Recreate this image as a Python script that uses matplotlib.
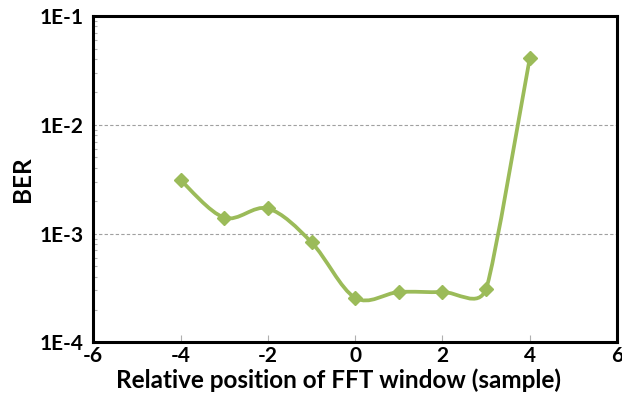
import numpy as np
import matplotlib.pyplot as plt
from matplotlib.path import Path
from matplotlib.patches import PathPatch
from matplotlib.ticker import FixedLocator, FixedFormatter, LogLocator, NullFormatter

plt.rcParams['font.family'] = ['Lato', 'DejaVu Sans']
plt.rcParams['font.weight'] = 'bold'
plt.rcParams['axes.unicode_minus'] = False

# BER versus FFT window offset
offsets = [-4, -3, -2, -1, 0, 1, 2, 3, 4]
ber = [3.1e-3, 1.40e-3, 1.70e-3, 8.3e-4, 2.57e-4, 2.9e-4, 2.9e-4, 3.1e-4, 4.08e-2]

x_ticks = [-6, -4, -2, 0, 2, 4, 6]
y_ticks = [1e-4, 1e-3, 1e-2, 1e-1]
y_tick_labels = ['1E-4', '1E-3', '1E-2', '1E-1']

green = '#9bbb59'

fig = plt.figure(figsize=(6.22, 4.09), dpi=100)
ax = fig.add_axes([0.150, 0.163, 0.842, 0.798])
ax.set_yscale('log')
ax.set_xlim(-6, 6)
ax.set_ylim(1e-4, 1e-1)


def smooth_path(ax, xs, ys):
    # spreadsheet-style smoothed line: Bezier segments whose control
    # points follow the neighbouring points, computed in screen space and
    # shortened when a neighbouring segment is short
    pts = ax.transData.transform(np.column_stack([xs, ys]))
    n = len(pts)
    ctrl_in = np.zeros_like(pts)
    ctrl_out = np.zeros_like(pts)
    for i in range(n):
        p0 = pts[max(i - 1, 0)]
        p1 = pts[i]
        p2 = pts[min(i + 1, n - 1)]
        d01 = np.hypot(*(p1 - p0))
        d12 = np.hypot(*(p2 - p1))
        d02 = np.hypot(*(p2 - p0))
        f = 1 / 6
        if 0 < i < n - 1 and d02 > 0:
            f = min(f, d01 / (2 * d02), d12 / (2 * d02))
        ctrl_in[i] = p1 - f * (p2 - p0)
        ctrl_out[i] = p1 + f * (p2 - p0)
    verts = [pts[0]]
    codes = [Path.MOVETO]
    for i in range(n - 1):
        verts += [ctrl_out[i], ctrl_in[i + 1], pts[i + 1]]
        codes += [Path.CURVE4] * 3
    verts = ax.transData.inverted().transform(np.array(verts))
    return Path(verts, codes)


ax.add_patch(PathPatch(smooth_path(ax, offsets, ber), facecolor='none',
                       edgecolor=green, lw=2.7, capstyle='round', zorder=3))
ax.plot(offsets, ber, linestyle='none', marker='D', ms=7, color=green, zorder=4)

# dashed horizontal gridlines
for yv in [1e-3, 1e-2]:
    ax.axhline(yv, color='#a0a0a0', lw=0.8, ls=(0, (3, 2)), zorder=1)

ax.xaxis.set_major_locator(FixedLocator(x_ticks))
ax.yaxis.set_major_locator(FixedLocator(y_ticks))
ax.yaxis.set_major_formatter(FixedFormatter(y_tick_labels))
ax.yaxis.set_minor_locator(LogLocator(base=10, subs=np.arange(2, 10)))
ax.yaxis.set_minor_formatter(NullFormatter())

ax.tick_params(axis='x', which='major', direction='in', length=5, width=0.8,
               color='#b0b0b0', labelsize=15, pad=3)
ax.tick_params(axis='y', which='major', direction='in', length=0,
               labelsize=15, pad=7)
ax.tick_params(axis='y', which='minor', direction='in', length=3, width=0.8,
               color='#b0b0b0')
for lbl in ax.get_xticklabels() + ax.get_yticklabels():
    lbl.set_fontweight('bold')

for sp in ax.spines.values():
    sp.set_linewidth(2.2)
    sp.set_color('black')

ax.set_xlabel('Relative position of FFT window (sample)', fontsize=17.5,
              fontweight='bold')
ax.xaxis.set_label_coords(0.468, -0.08, transform=ax.transAxes)
ax.xaxis.label.set_verticalalignment('top')
ax.set_ylabel('BER', fontsize=17.5, fontweight='bold', labelpad=4)

fig.savefig('out.png', dpi=100)
